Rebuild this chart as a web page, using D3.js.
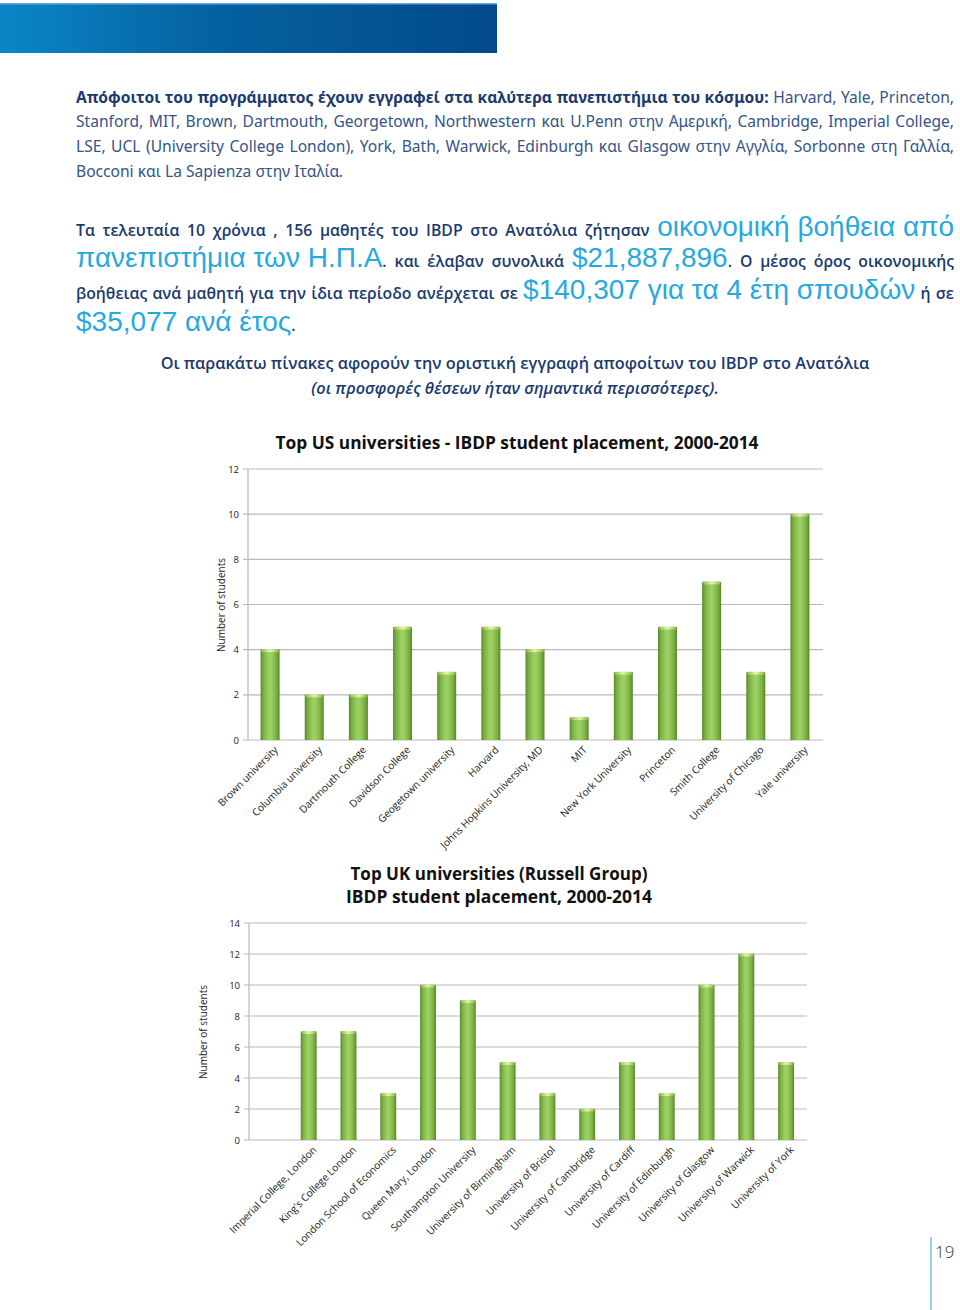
<!DOCTYPE html>
<html>
<head>
<meta charset="utf-8">
<script src="https://cdn.jsdelivr.net/npm/d3@7"></script>
<style>
  html, body { margin: 0; padding: 0; background: #fff; }
  body { width: 960px; height: 1310px; position: relative; overflow: hidden; }
  svg { position: absolute; left: 0; top: 0; }
  .line { position: absolute; left: 76px; width: 878px; text-align: justify; text-align-last: justify; white-space: nowrap; }
  .line.last { text-align-last: left; }
  .p1 { font-family: "Noto Sans", sans-serif; font-size: 15.6px; color: #34548a; }
  .p1 b { color: #1b3a70; font-weight: 700; }
  .p2 { font-family: "Open Sans", sans-serif; font-weight: 600; font-size: 15.8px; color: #1b3a70; line-height: 26px; }
  .big { display: inline-block; line-height: 26px; font-family: "Liberation Sans Narrow", "Liberation Sans", sans-serif; font-weight: 400; font-size: 28px; color: #27a8e0; }
  .p3 { position: absolute; left: 0; width: 1030px; text-align: center; font-family: "Open Sans", sans-serif; font-weight: 600; font-size: 16.3px; color: #1b3a70; white-space: nowrap; }
</style>
</head>
<body>
<svg id="page" width="960" height="1310"></svg>

<div class="line p1" style="top:86px"><b>Απόφοιτοι του προγράμματος έχουν εγγραφεί στα καλύτερα πανεπιστήμια του κόσμου:</b> Harvard, Yale, Princeton,</div>
<div class="line p1" style="top:110px">Stanford, MIT, Brown, Dartmouth, Georgetown, Northwestern και U.Penn στην Αμερική, Cambridge, Imperial College,</div>
<div class="line p1" style="top:135px">LSE, UCL (University College London), York, Bath, Warwick, Edinburgh και Glasgow στην Αγγλία, Sorbonne στη Γαλλία,</div>
<div class="line p1 last" style="top:160px">Bocconi και La Sapienza στην Ιταλία.</div>

<div class="line p2" style="top:214px">Τα τελευταία 10 χρόνια , 156 μαθητές του IBDP στο Ανατόλια ζήτησαν <span class="big">οικονομική βοήθεια από</span></div>
<div class="line p2" style="top:245px"><span class="big">πανεπιστήμια των Η.Π.Α</span>. και έλαβαν συνολικά <span class="big">$21,887,896</span>. Ο μέσος όρος οικονομικής</div>
<div class="line p2" style="top:277px">βοήθειας ανά μαθητή για την ίδια περίοδο ανέρχεται σε <span class="big">$140,307 για τα 4 έτη σπουδών</span> ή σε</div>
<div class="line p2 last" style="top:309px"><span class="big">$35,077 ανά έτος</span>.</div>

<div class="p3" style="top:352px">Οι παρακάτω πίνακες αφορούν την οριστική εγγραφή αποφοίτων του IBDP στο Ανατόλια</div>
<div class="p3" style="top:377px"><i>(οι προσφορές θέσεων ήταν σημαντικά περισσότερες).</i></div>

<script>
// ---------------- DATA ----------------
const usUniversities = ["Brown university", "Columbia university", "Dartmouth College", "Davidson College",
  "Geogetown university", "Harvard", "Johns Hopkins University, MD", "MIT", "New York University",
  "Princeton", "Smith College", "University of Chicago", "Yale university"];
const usStudents = [4, 2, 2, 5, 3, 5, 4, 1, 3, 5, 7, 3, 10];
const usTicks = [0, 2, 4, 6, 8, 10, 12];
const usTitle = ["Top US universities - IBDP student placement, 2000-2014"];

const ukUniversities = ["", "Imperial College, London", "King's College London", "London School of Economics",
  "Queen Mary, London", "Southampton University", "University of Birmingham", "University of Bristol",
  "University of Cambridge", "University of Cardiff", "University of Edinburgh", "University of Glasgow",
  "University of Warwick", "University of York"];
const ukStudents = [null, 7, 7, 3, 10, 9, 5, 3, 2, 5, 3, 10, 12, 5];
const ukTicks = [0, 2, 4, 6, 8, 10, 12, 14];
const ukTitle = ["Top UK universities (Russell Group)", "IBDP student placement, 2000-2014"];

const yAxisLabel = "Number of students";
const pageNumber = "19";

// ---------------- PAGE DECOR ----------------
const svg = d3.select("#page");
const defs = svg.append("defs");

const hg = defs.append("linearGradient").attr("id", "hdr").attr("x1", "0").attr("x2", "1").attr("y1", "0").attr("y2", "0");
hg.append("stop").attr("offset", "0%").attr("stop-color", "#0a86c6");
hg.append("stop").attr("offset", "45%").attr("stop-color", "#05609f");
hg.append("stop").attr("offset", "100%").attr("stop-color", "#034a8a");
svg.append("rect").attr("x", 0).attr("y", 3).attr("width", 497).attr("height", 50).attr("fill", "url(#hdr)");
svg.append("rect").attr("x", 0).attr("y", 3).attr("width", 497).attr("height", 1.5).attr("fill", "#6aa9d6");

svg.append("line").attr("x1", 931).attr("x2", 931).attr("y1", 1237).attr("y2", 1310)
  .attr("stroke", "#74c3dc").attr("stroke-width", 1.5);
svg.append("text").attr("x", 935).attr("y", 1258).text(pageNumber)
  .attr("font-family", "'Open Sans', sans-serif").attr("font-size", 17).attr("font-weight", 300).attr("fill", "#333");

// bar gradient
const bg = defs.append("linearGradient").attr("id", "barG").attr("x1", "0").attr("x2", "1").attr("y1", "0").attr("y2", "0");
[["0%", "#5b8a2c"], ["18%", "#7db446"], ["45%", "#9dd164"], ["60%", "#98cc5e"], ["85%", "#78ad40"], ["100%", "#56842a"]]
  .forEach(([o, c]) => bg.append("stop").attr("offset", o).attr("stop-color", c));
const cg = defs.append("linearGradient").attr("id", "capG").attr("x1", "0").attr("x2", "1").attr("y1", "0").attr("y2", "0");
[["0%", "#8fbf55"], ["50%", "#e4f5a8"], ["100%", "#8fbf55"]]
  .forEach(([o, c]) => cg.append("stop").attr("offset", o).attr("stop-color", c));

// ---------------- CHART FUNCTION ----------------
function drawChart(o) {
  const g = svg.append("g");
  const x = d3.scaleBand().domain(o.cats).range([o.x0, o.x1]).paddingInner(o.pad).paddingOuter(o.pad / 2);
  const y = d3.scaleLinear().domain([0, d3.max(o.ticks)]).range([o.y0, o.y1]);

  // gridlines
  g.selectAll(".grid").data(o.ticks).join("line")
    .attr("x1", o.x0 - 5).attr("x2", o.x1 + 1)
    .attr("y1", d => y(d)).attr("y2", d => y(d))
    .attr("stroke", "#b9b9b9").attr("stroke-width", 1.2);
  // axis line
  g.append("line").attr("x1", o.x0).attr("x2", o.x0).attr("y1", y(d3.max(o.ticks))).attr("y2", o.y0)
    .attr("stroke", "#b9b9b9").attr("stroke-width", 1.2);

  // tick labels via d3 axis
  const ax = g.append("g").attr("transform", `translate(${o.x0 - 4},0)`)
    .call(d3.axisLeft(y).tickValues(o.ticks).tickSize(0).tickPadding(5));
  ax.select(".domain").remove();
  ax.selectAll("text").attr("font-family", "'Open Sans', sans-serif").attr("font-size", 9.5).attr("fill", "#222");

  // bars
  const data = o.cats.map((c, i) => ({ c, v: o.vals[i] })).filter(d => d.v != null);
  const bars = g.selectAll(".bar").data(data).join("g");
  bars.append("rect").attr("x", d => x(d.c)).attr("width", x.bandwidth())
    .attr("y", d => y(d.v)).attr("height", d => o.y0 - y(d.v)).attr("fill", "url(#barG)");
  bars.append("rect").attr("x", d => x(d.c) + 1).attr("width", x.bandwidth() - 2)
    .attr("y", d => y(d.v) - 0.5).attr("height", 3).attr("fill", "url(#capG)");

  // category labels
  g.selectAll(".xl").data(o.cats.filter(c => c !== "")).join("text")
    .attr("transform", d => `translate(${x(d) + x.bandwidth() / 2 + 6},${o.y0 + 8}) rotate(-45)`)
    .attr("text-anchor", "end").attr("dy", "0.35em")
    .attr("font-family", "'Open Sans', sans-serif").attr("font-size", 10.2).attr("fill", "#222")
    .text(d => d);

  // y axis label
  g.append("text").attr("transform", `translate(${o.ylx},${o.yly}) rotate(-90)`)
    .attr("text-anchor", "middle").attr("font-family", "'Open Sans', sans-serif").attr("font-size", 10)
    .attr("fill", "#222").text(yAxisLabel);

  // title
  o.title.forEach((t, i) => {
    g.append("text").attr("x", o.tx).attr("y", o.ty + i * o.tlh).attr("text-anchor", "middle")
      .attr("font-family", "'Open Sans', sans-serif").attr("font-weight", 700).attr("font-size", 18)
      .attr("fill", "#111").attr("textLength", o.tw[i]).attr("lengthAdjust", "spacingAndGlyphs").text(t);
  });
}

drawChart({ cats: usUniversities, vals: usStudents, ticks: usTicks, title: usTitle,
  x0: 248, x1: 822, y0: 740, y1: 469, pad: 0.57, ylx: 225, yly: 605,
  tx: 517, ty: 449, tlh: 0, tw: [483] });

drawChart({ cats: ukUniversities, vals: ukStudents, ticks: ukTicks, title: ukTitle,
  x0: 249, x1: 806, y0: 1140, y1: 923, pad: 0.6, ylx: 207, yly: 1032,
  tx: 499, ty: 880, tlh: 23, tw: [297, 306] });
</script>
</body>
</html>
